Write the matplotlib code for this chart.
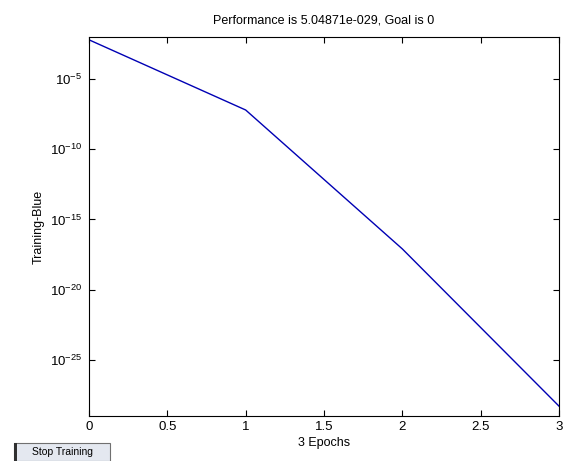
import matplotlib.pyplot as plt
from matplotlib.patches import Rectangle
from matplotlib.ticker import FixedLocator, NullLocator

plt.rcParams['font.family'] = ['Liberation Sans', 'DejaVu Sans']
plt.rcParams['mathtext.fontset'] = 'custom'
plt.rcParams['mathtext.rm'] = 'Liberation Sans'

# training performance per epoch
epochs = [0, 1, 2, 3]
perf = [6.3e-3, 6.3e-8, 8e-18, 5.04871e-29]
ytick_vals = [1e-5, 1e-10, 1e-15, 1e-20, 1e-25]
ytick_labels = ['$10^{-5}$', '$10^{-10}$', '$10^{-15}$', '$10^{-20}$', '$10^{-25}$']

fig = plt.figure(figsize=(5.68, 4.61), dpi=100)
ax = fig.add_axes([89 / 568, 1 - 416 / 461, 470 / 568, 379 / 461])
ax.semilogy(epochs, perf, color='#0000b4', linewidth=1.0)

ax.set_xlim(0, 3)
ax.set_ylim(1e-29, 1e-2)
ax.set_xticks([0, 0.5, 1, 1.5, 2, 2.5, 3])
ax.set_xticklabels(['0', '0.5', '1', '1.5', '2', '2.5', '3'])
ax.yaxis.set_major_locator(FixedLocator(ytick_vals))
ax.set_yticklabels(ytick_labels)
ax.yaxis.set_minor_locator(NullLocator())
ax.tick_params(direction='in', top=True, right=True, length=4, labelsize=9.5, width=0.8)
ax.tick_params(axis='y', pad=5)
for s in ax.spines.values():
    s.set_linewidth(0.8)

ax.set_title('Performance is 5.04871e-029, Goal is 0', fontsize=9, pad=10)
ax.set_xlabel('3 Epochs', fontsize=9, labelpad=3)
ax.set_ylabel('Training-Blue', fontsize=9, labelpad=4)

# "Stop Training" button
fig.patches.append(Rectangle((14 / 568, 0), 96 / 568, 18 / 461, transform=fig.transFigure,
                             facecolor='#e4e8f0', edgecolor='#707070', linewidth=0.8))
fig.patches.append(Rectangle((14 / 568, 0), 3 / 568, 18 / 461, transform=fig.transFigure,
                             facecolor='#303030', edgecolor='none'))
fig.text(63 / 568, 1 - 452 / 461, 'Stop Training', fontsize=7.5, ha='center', va='center')

fig.savefig('out.png', dpi=100)
